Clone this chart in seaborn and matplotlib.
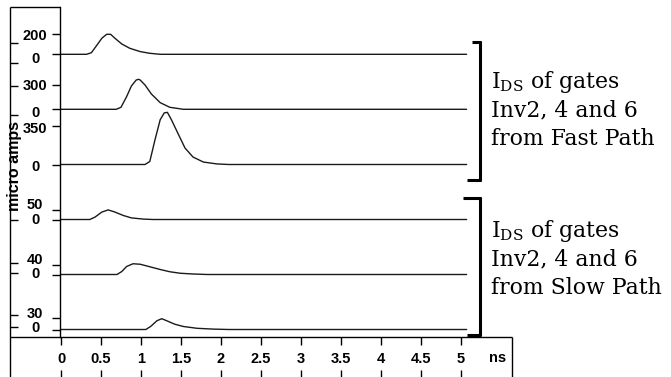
import numpy as np
import pandas as pd
import matplotlib
matplotlib.use("Agg")
import matplotlib.pyplot as plt
from matplotlib.lines import Line2D
from matplotlib.transforms import ScaledTranslation
import seaborn as sns

# ---------------- data (time in ns, current in micro amps) ----------------
trace_names = ["Fast Inv2", "Fast Inv4", "Fast Inv6", "Slow Inv2", "Slow Inv4", "Slow Inv6"]

t_fast2 = [0.0, 0.32, 0.38, 0.45, 0.51, 0.57, 0.62, 0.675, 0.76, 0.86, 0.99, 1.11, 1.24, 5.07]
i_fast2 = [0, 0, 16, 93, 160, 200, 200, 160, 103, 60, 27, 10, 0, 0]

t_fast4 = [0.0, 0.69, 0.75, 0.82, 0.88, 0.94, 0.97, 0.99, 1.05, 1.13, 1.24, 1.36, 1.53, 5.07]
i_fast4 = [0, 0, 25, 158, 291, 366, 375, 366, 304, 191, 83, 25, 0, 0]

t_fast6 = [0.0, 1.05, 1.11, 1.175, 1.24, 1.29, 1.33, 1.38, 1.47, 1.55, 1.65, 1.78, 1.95, 2.1, 5.07]
i_fast6 = [0, 0, 27, 222, 402, 463, 468, 402, 267, 148, 67, 22, 5, 0, 0]

t_slow2 = [0.0, 0.36, 0.425, 0.51, 0.59, 0.675, 0.78, 0.88, 1.03, 1.15, 5.07]
i_slow2 = [0, 0, 12, 37, 48, 37, 20, 8, 2, 0, 0]

t_slow4 = [0.0, 0.70, 0.76, 0.82, 0.90, 0.99, 1.11, 1.24, 1.36, 1.49, 1.65, 1.83, 5.07]
i_slow4 = [0, 0, 12, 32, 43, 41, 31, 20, 11, 5, 2, 0, 0]

t_slow6 = [0.0, 1.06, 1.12, 1.20, 1.26, 1.32, 1.425, 1.53, 1.70, 1.90, 2.1, 5.07]
i_slow6 = [0, 0, 7.5, 22, 27, 22, 13, 7.5, 3, 1, 0, 0]

# labelled scale value of each trace
scale_values = [200, 300, 350, 50, 40, 30]

x_ticks = [0, 0.5, 1, 1.5, 2, 2.5, 3, 3.5, 4, 4.5, 5]
x_tick_labels = ["0", "0.5", "1", "1.5", "2", "2.5", "3", "3.5", "4", "4.5", "5"]
x_unit = "ns"
y_title = "micro amps"
fast_text = ["I$_{\\mathrm{DS}}$ of gates", "Inv2, 4 and 6", "from Fast Path"]
slow_text = ["I$_{\\mathrm{DS}}$ of gates", "Inv2, 4 and 6", "from Slow Path"]

# ---------------- layout (stack offsets in axis units) ----------------
baselines = [282.7, 227.7, 172.5, 117.5, 62.5, 7.5]
scale_px = [20.0, 24.0, 39.0, 10.0, 10.0, 12.0]   # axis units spanned by the labelled value
label_shift_down = [0, 3, -1, 2, 2, 1, -6, -1, -6, -2, -5, -3]   # pixels

W, H = 671, 377
sns.set_theme(style="white")
plt.rcParams["font.family"] = ["Liberation Sans", "DejaVu Sans"]
plt.rcParams["mathtext.fontset"] = "dejavuserif"
for key in ["text.color", "axes.labelcolor", "xtick.color", "ytick.color"]:
    plt.rcParams[key] = "black"

fig = plt.figure(figsize=(W / 100, H / 100), dpi=100)
ax = fig.add_axes([60 / W, (H - 337) / H, (512 - 60) / W, 330 / H])

times = [t_fast2, t_fast4, t_fast6, t_slow2, t_slow4, t_slow6]
currents = [i_fast2, i_fast4, i_fast6, i_slow2, i_slow4, i_slow6]
rows = []
for name, tt, ii, b, s, v in zip(trace_names, times, currents, baselines, scale_px, scale_values):
    for a, c in zip(tt, ii):
        rows.append({"trace": name, "t": a, "y": b + c * s / v})
df = pd.DataFrame(rows)
for name in trace_names:
    sns.lineplot(data=df[df.trace == name], x="t", y="y", sort=False, estimator=None,
                 color="#1a1a1a", linewidth=1.0, ax=ax)

ax.set_xlim((60 - 61) / 80, (512 - 61) / 80)
ax.set_ylim(0, 330)
ax.set_xlabel("")
ax.set_ylabel("")
for sp in ["top", "right", "bottom"]:
    ax.spines[sp].set_visible(False)
ax.spines["left"].set_color("black")
ax.spines["left"].set_linewidth(1.0)

# y ticks: 0 and labelled value of each trace
ytick_pos, ytick_lab = [], []
for b, s, v in zip(baselines, scale_px, scale_values):
    ytick_pos += [b + s, b]
    ytick_lab += [str(v), "0"]
ax.tick_params(axis="y", left=True, direction="out", length=5.8, width=1.0, color="black",
               labelcolor="black", pad=12, labelsize=10.5)
ax.tick_params(axis="x", bottom=True, direction="out", length=6, width=1.0, color="black",
               labelcolor="black", pad=5, labelsize=10.5)
ax.set_yticks(ytick_pos)
ax.set_yticklabels(ytick_lab, fontweight="bold", ha="center")
for lab, dn in zip(ax.get_yticklabels(), label_shift_down):
    lab.set_transform(lab.get_transform() + ScaledTranslation(0, -dn / 100.0, fig.dpi_scale_trans))
ax.set_xticks(x_ticks)
ax.set_xticklabels(x_tick_labels, fontweight="bold")

# lower tick row
ax.vlines(x_ticks, -0.1, -0.122, transform=ax.get_xaxis_transform(), colors="black",
          linewidth=1.0, clip_on=False)


def fline(x1, y1, x2, y2, lw=1.0):
    fig.add_artist(Line2D([x1 / W, x2 / W], [1 - y1 / H, 1 - y2 / H],
                          transform=fig.transFigure, color="black", linewidth=lw,
                          solid_capstyle="butt"))


# frame pieces
fline(10, 7, 10, 377)
fline(10, 7, 60, 7)
fline(10, 337, 512, 337)
fline(512, 337, 512, 377)
for yy in [43, 63, 86, 115, 220, 263, 273, 315, 327]:
    fline(10, yy, 18, yy)

# brackets
bw = 2.2
fline(480, 41, 480, 181, bw)
fline(472, 42, 481, 42, bw)
fline(467, 180, 481, 180, bw)
fline(480, 197, 480, 336, bw)
fline(463, 198, 481, 198, bw)
fline(467, 335, 481, 335, bw)

for k, line in enumerate(fast_text):
    fig.text(491 / W, 1 - (88 + 28.5 * k) / H, line, family="DejaVu Serif", size=15.8,
             ha="left", va="baseline", color="black")
for k, line in enumerate(slow_text):
    fig.text(491 / W, 1 - (237 + 28.5 * k) / H, line, family="DejaVu Serif", size=15.8,
             ha="left", va="baseline", color="black")

fig.text(15 / W, 1 - 166 / H, y_title, rotation=90, ha="center", va="center",
         fontweight="bold", size=11.5, color="black")
fig.text(498 / W, 1 - 358 / H, x_unit, ha="center", va="center", fontweight="bold",
         size=10.5, color="black")

fig.savefig("out.png", dpi=100)
